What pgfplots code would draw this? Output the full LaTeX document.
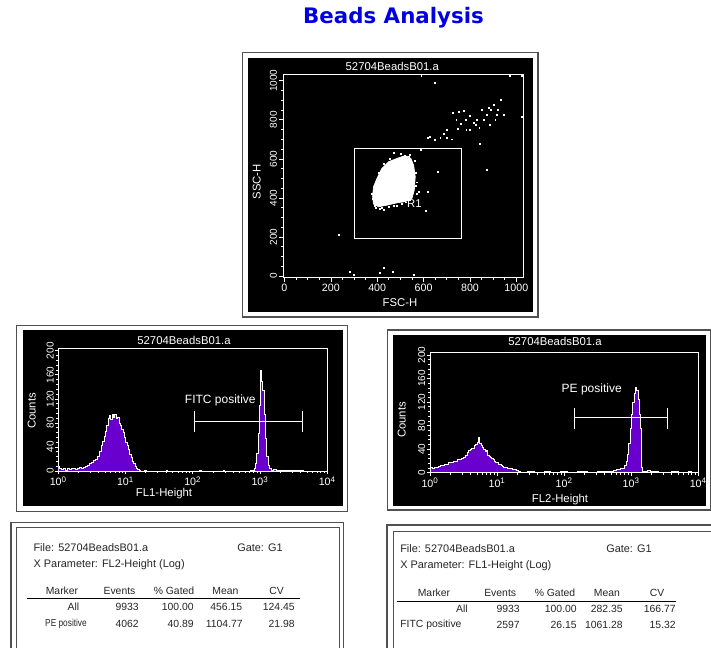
\documentclass[border=0pt]{standalone}
\usepackage{pgfplots}
\usepackage{pgfplotstable}
\pgfplotsset{compat=1.18}
\usepackage{fontspec}
\setmainfont{Liberation Sans}
\newfontfamily\dejavu{DejaVu Sans}
\definecolor{fcsblue}{RGB}{0,0,225}
\definecolor{fcspurple}{RGB}{105,0,205}
\definecolor{framegray}{RGB}{80,80,80}

\pgfplotstableread{
x y
0.00 8
0.02 4
0.05 3
0.08 4
0.10 2
0.13 5
0.16 3
0.19 4
0.22 5
0.25 3
0.28 4
0.31 6
0.34 5
0.37 6
0.40 8
0.43 10
0.46 12
0.49 14
0.52 17
0.55 20
0.58 25
0.61 32
0.64 42
0.66 50
0.68 58
0.70 66
0.72 76
0.74 88
0.76 92
0.78 86
0.80 94
0.82 90
0.84 95
0.86 88
0.88 90
0.90 80
0.92 76
0.94 70
0.96 64
0.98 56
1.00 48
1.02 42
1.04 36
1.06 28
1.08 22
1.10 16
1.12 12
1.14 8
1.16 5
1.18 3
1.20 1
1.22 0
1.28 2
1.31 0
1.60 1
1.62 0
2.10 1
2.12 0
2.45 1
2.47 0
2.85 1
2.88 2
2.91 5
2.93 12
2.95 30
2.97 62
2.99 110
3.01 168
3.02 150
3.04 135
3.06 95
3.08 55
3.10 25
3.12 10
3.14 4
3.17 2
3.20 3
3.24 1
3.30 2
3.36 1
3.45 2
3.50 1
3.60 2
3.65 0
4.00 0
}\flone

\pgfplotstableread{
x y
0.00 105
0.01 9
0.04 8
0.07 10
0.10 9
0.13 11
0.16 12
0.19 13
0.22 14
0.25 15
0.28 17
0.31 18
0.34 20
0.37 19
0.40 22
0.43 23
0.46 25
0.49 27
0.52 30
0.55 34
0.57 38
0.60 40
0.62 42
0.64 41
0.66 46
0.68 48
0.70 52
0.72 60
0.74 50
0.76 47
0.78 44
0.80 40
0.82 36
0.84 38
0.86 30
0.88 28
0.90 26
0.92 24
0.94 22
0.96 20
0.98 18
1.00 17
1.02 15
1.04 14
1.06 12
1.08 11
1.10 10
1.13 9
1.16 8
1.19 7
1.22 6
1.25 5
1.28 4
1.32 2
1.35 1
1.45 2
1.55 1
1.70 2
1.80 1
1.95 2
2.05 1
2.20 2
2.35 1
2.50 2
2.60 3
2.66 2
2.70 3
2.74 4
2.78 5
2.81 6
2.84 7
2.88 8
2.90 12
2.92 20
2.94 32
2.96 50
2.98 75
3.00 100
3.02 120
3.04 135
3.06 145
3.08 140
3.10 125
3.12 100
3.14 75
3.15 10
3.17 3
3.24 4
3.28 2
3.40 1
3.60 2
3.70 1
3.85 2
3.90 0
4.00 0
}\fltwo

\pgfplotstableread{
x y
380 395
378 420
390 360
395 352
420 348
450 355
470 362
505 370
540 392
570 420
565 460
568 530
560 590
540 622
500 625
470 631
455 600
430 575
405 530
520 618
535 612
410 345
430 340
485 360
525 378
548 430
572 480
590 1026
650 991
971 1026
1024 1026
1024 816
727 836
750 841
775 846
741 802
747 756
780 799
816 785
830 799
849 850
873 824
891 850
902 875
931 901
945 824
916 824
909 799
885 773
826 773
801 747
784 747
842 679
873 546
701 747
686 730
672 710
701 710
619 710
625 712
650 696
586 645
603 654
663 532
578 432
617 432
610 334
235 213
283 22
298 7
413 17
430 41
468 22
557 7
800 820
860 800
880 860
920 850
760 780
840 760
720 700
}\scat

\pgfplotsset{
  fcs/.style={
    scale only axis,
    axis line style={white, line width=0.6pt},
    every tick/.style={white, line width=0.5pt},
    tick align=outside,
    tick pos=left,
    major tick length=3pt,
    minor tick length=1.6pt,
    /pgf/number format/assume math mode=true,
    /pgf/number format/1000 sep={},
    xticklabel style={font=\fontsize{8}{9}\selectfont, text=white, inner sep=1.5pt},
    yticklabel style={font=\fontsize{7.5}{8}\selectfont, text=white, rotate=90, anchor=south, inner sep=1.5pt},
  },
  hist/.style={
    fcs,
    xmin=0, xmax=4, ymin=0, ymax=204,
    xtick={0,1,2,3,4},
    xticklabels={10\textsuperscript{0},10\textsuperscript{1},10\textsuperscript{2},10\textsuperscript{3},10\textsuperscript{4}},
    minor xtick={0.301,0.477,0.602,0.699,0.778,0.845,0.903,0.954,1.301,1.477,1.602,1.699,1.778,1.845,1.903,1.954,2.301,2.477,2.602,2.699,2.778,2.845,2.903,2.954,3.301,3.477,3.602,3.699,3.778,3.845,3.903,3.954},
    ytick={0,40,80,120,160,200},
    minor y tick num=4,
    major tick length=2.5pt,
    minor tick length=1.5pt,
    yticklabel style={inner sep=0.8pt},
  },
}
\tikzset{
  tab/.style={font=\fontsize{7.8}{9}\selectfont, text=black!85, inner sep=0pt},
  tabh/.style={font=\fontsize{8.2}{9}\selectfont, text=black!85, inner sep=0pt},
  wlab/.style={font=\fontsize{8.5}{9}\selectfont, text=white, inner sep=0pt},
}

\begin{document}
\begin{tikzpicture}[x=0.75pt,y=-0.75pt]
\useasboundingbox (0,0) rectangle (711,647);
\fill[white] (0,0) rectangle (711,647);

% main title
\node[font=\dejavu\bfseries\fontsize{16}{18}\selectfont, text=fcsblue] at (393.5,18) {Beads Analysis};

% ---------- scatter panel ----------
\draw[framegray, line width=0.8pt] (242.5,52.5) rectangle (538,317);
\fill[black] (247.5,57.5) rectangle (533,312);
\begin{axis}[fcs, at={(212.475pt,-208.275pt)}, anchor=south west,
  width=180pt, height=152.5pt,
  xmin=-5, xmax=1030, ymin=-8, ymax=1032,
  xtick={0,200,400,600,800,1000}, ytick={0,200,400,600,800,1000},
  minor x tick num=3, minor y tick num=3]
\addplot[fill=white, draw=white, line width=0.5pt] coordinates {
 (528,614) (545,602) (557,568) (564,509) (560,440) (550,398) (521,381)
 (485,375) (442,363) (406,355) (384,369) (380,406) (384,457) (399,500)
 (420,551) (449,585) (485,602) (514,614)} -- cycle;
\addplot[only marks, mark=square*, mark size=0.35pt, white] table {\scat};
\draw[white, line width=0.7pt] (axis cs:302,191) rectangle (axis cs:763,652);
\node[wlab] at (axis cs:560,372) {R1};
\end{axis}
\node[wlab] at (392.3,66) {52704BeadsB01.a};
\node[wlab] at (400,302.7) {FSC-H};
\node[wlab, rotate=90] at (256.7,181.7) {SSC-H};

% ---------- FL1 panel ----------
\draw[framegray, line width=0.8pt] (16.7,325.5) rectangle (347.7,511.7);
\fill[black] (22.7,330) rectangle (342.7,506);
\begin{axis}[hist, at={(43.725pt,-353.25pt)}, anchor=south west, width=201.75pt, height=92pt]
\addplot[const plot, fill=fcspurple, draw=white, line width=0.45pt] table {\flone} \closedcycle;
\draw[white, line width=0.6pt] (axis cs:2.03,83) -- (axis cs:3.63,83);
\draw[white, line width=0.6pt] (axis cs:2.03,65.5) -- (axis cs:2.03,100);
\draw[white, line width=0.6pt] (axis cs:3.63,65.5) -- (axis cs:3.63,100);
\node[wlab, anchor=west, font=\fontsize{9}{10}\selectfont] at (axis cs:1.88,118) {FITC positive};
\end{axis}
\node[wlab] at (184,340) {52704BeadsB01.a};
\node[wlab] at (164,494) {FL1-Height};
\node[wlab, rotate=90] at (31.7,411) {Counts};

% ---------- FL2 panel ----------
\draw[framegray, line width=0.8pt] (387.5,330) rectangle (710.5,510);
\fill[black] (393,334.5) rectangle (706,505.5);
\begin{axis}[hist, at={(322.5pt,-354.525pt)}, anchor=south west, width=201.2pt, height=90pt]
\addplot[const plot, fill=fcspurple, draw=white, line width=0.45pt] table {\fltwo} \closedcycle;
\draw[white, line width=0.6pt] (axis cs:2.15,93.5) -- (axis cs:3.54,93.5);
\draw[white, line width=0.6pt] (axis cs:2.15,75) -- (axis cs:2.15,110.5);
\draw[white, line width=0.6pt] (axis cs:3.54,75) -- (axis cs:3.54,110.5);
\node[wlab, anchor=west, font=\fontsize{9}{10}\selectfont] at (axis cs:1.96,142) {PE positive};
\end{axis}
\node[wlab] at (555,341.7) {52704BeadsB01.a};
\node[wlab] at (560,499.5) {FL2-Height};
\node[wlab, rotate=90] at (401.7,420) {Counts};

% ---------- left table ----------
\draw[framegray, line width=1pt] (11,522.5) rectangle (343.3,680);
\draw[framegray, line width=1pt] (16.7,527.7) rectangle (339.3,680);
\node[tabh, anchor=west] at (33.3,548) {File: 52704BeadsB01.a};
\node[tabh, anchor=west] at (237,548) {Gate: G1};
\node[tabh, anchor=west] at (33.3,565) {X Parameter: FL2-Height (Log)};
\node[tab] at (62,591) {Marker};
\node[tab] at (119.5,591) {Events};
\node[tab] at (174,591) {\% Gated};
\node[tab] at (225.5,591) {Mean};
\node[tab] at (276.5,591) {CV};
\draw[black, line width=0.75pt] (27,598.5) -- (300,598.5);
\node[tab, anchor=east] at (79.5,607) {All};
\node[tab, anchor=east] at (139,607) {9933};
\node[tab, anchor=east] at (194,607) {100.00};
\node[tab, anchor=east] at (242.5,607) {456.15};
\node[tab, anchor=east] at (295,607) {124.45};
\node[tab, anchor=west, font=\fontsize{7.6}{8}\selectfont, xscale=0.82] at (45,623.5) {PE positive};
\node[tab, anchor=east] at (139,623.5) {4062};
\node[tab, anchor=east] at (194,623.5) {40.89};
\node[tab, anchor=east] at (243,623.5) {1104.77};
\node[tab, anchor=east] at (295,623.5) {21.98};

% ---------- right table ----------
\draw[framegray, line width=1pt] (387,525) rectangle (730,680);
\draw[framegray, line width=1pt] (393.3,531.7) rectangle (730,680);
\node[tabh, anchor=west] at (400,549) {File: 52704BeadsB01.a};
\node[tabh, anchor=west] at (606,549) {Gate: G1};
\node[tabh, anchor=west] at (400,566) {X Parameter: FL1-Height (Log)};
\node[tab] at (434,593) {Marker};
\node[tab] at (500.2,593) {Events};
\node[tab] at (555,593) {\% Gated};
\node[tab] at (607,593) {Mean};
\node[tab] at (657,593) {CV};
\draw[black, line width=0.75pt] (396.7,601) -- (676.4,601);
\node[tab, anchor=east] at (468,609) {All};
\node[tab, anchor=east] at (520,609) {9933};
\node[tab, anchor=east] at (577,609) {100.00};
\node[tab, anchor=east] at (623,609) {282.35};
\node[tab, anchor=east] at (676,609) {166.77};
\node[tab, anchor=west] at (400,625) {FITC positive};
\node[tab, anchor=east] at (520,625) {2597};
\node[tab, anchor=east] at (577,625) {26.15};
\node[tab, anchor=east] at (623,625) {1061.28};
\node[tab, anchor=east] at (676,625) {15.32};
\end{tikzpicture}
\end{document}
